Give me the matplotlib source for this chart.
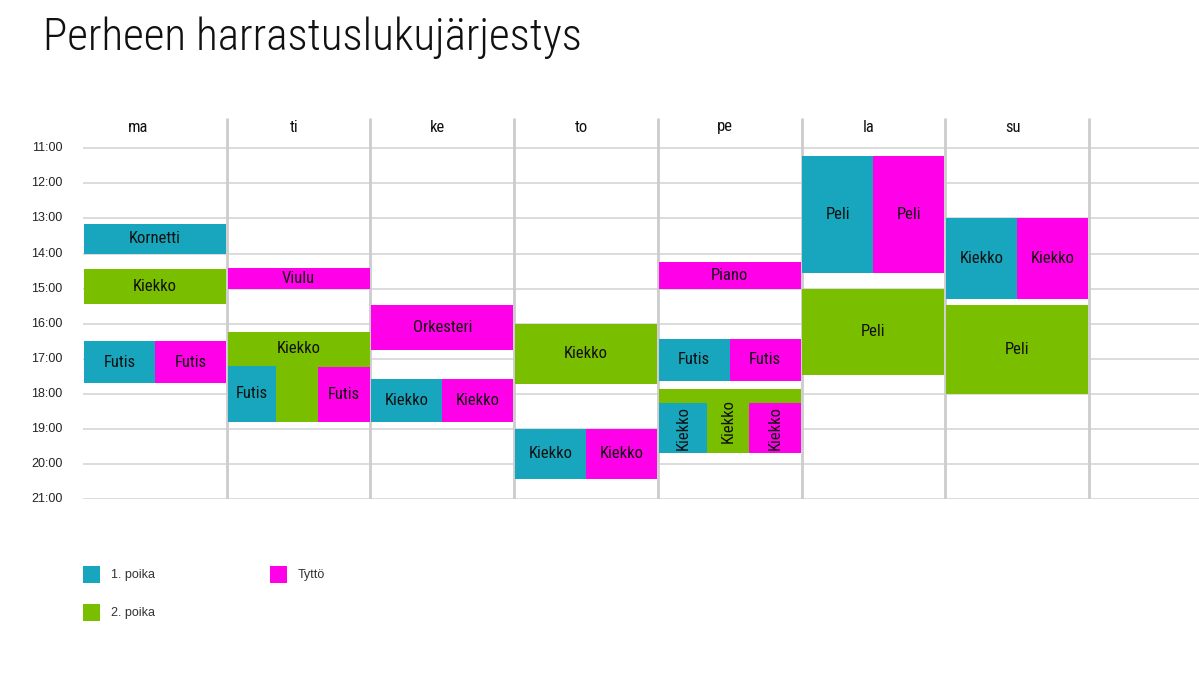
import matplotlib
matplotlib.use("Agg")
import matplotlib.pyplot as plt
from matplotlib import font_manager
from matplotlib.patches import Rectangle

# ---------------- data ----------------
days = ["ma", "ti", "ke", "to", "pe", "la", "su"]
hour_values = list(range(11, 22))
hour_labels = [f"{h}:00" for h in hour_values]

people = ["1. poika", "2. poika", "Tyttö"]

block_day = [0, 0, 0, 0,
             1, 1, 1, 1,
             2, 2, 2,
             3, 3, 3,
             4, 4, 4, 4, 4, 4,
             5, 5, 5,
             6, 6, 6]
block_person = ["1. poika", "2. poika", "1. poika", "Tyttö",
                "Tyttö", "2. poika", "1. poika", "Tyttö",
                "Tyttö", "1. poika", "Tyttö",
                "2. poika", "1. poika", "Tyttö",
                "Tyttö", "1. poika", "Tyttö", "2. poika", "1. poika", "Tyttö",
                "1. poika", "Tyttö", "2. poika",
                "1. poika", "Tyttö", "2. poika"]
block_label = ["Kornetti", "Kiekko", "Futis", "Futis",
               "Viulu", "Kiekko", "Futis", "Futis",
               "Orkesteri", "Kiekko", "Kiekko",
               "Kiekko", "Kiekko", "Kiekko",
               "Piano", "Futis", "Futis", "Kiekko", "Kiekko", "Kiekko",
               "Peli", "Peli", "Peli",
               "Kiekko", "Kiekko", "Peli"]
block_start = [13.17, 14.43, 16.50, 16.50,
               14.41, 16.23, 17.20, 17.25,
               15.47, 17.59, 17.59,
               16.00, 19.00, 19.00,
               14.25, 16.43, 16.43, 17.86, 18.25, 18.25,
               11.21, 11.21, 15.00,
               13.00, 13.00, 15.48]
block_end = [14.00, 15.45, 17.69, 17.69,
             15.00, 18.80, 18.80, 18.80,
             16.75, 18.80, 18.80,
             17.73, 20.42, 20.42,
             15.00, 17.63, 17.63, 19.68, 19.68, 19.68,
             14.56, 14.56, 17.46,
             15.30, 15.30, 18.00]
block_lane = ["full", "full", "left", "right",
              "full", "full", "left3", "right3",
              "full", "left", "right",
              "full", "left", "right",
              "full", "left", "right", "full", "left3", "right3",
              "left", "right", "full",
              "left", "right", "full"]

# ---------------- style ----------------
colors = {"1. poika": "#17A6BD", "2. poika": "#7ABE00", "Tyttö": "#FF00E8"}
lane_span = {"full": (0.0, 1.0), "left": (0.0, 0.5), "right": (0.5, 1.0),
             "left3": (0.0, 0.345), "right3": (0.635, 1.0)}


def pick_font(cands):
    names = {f.name for f in font_manager.fontManager.ttflist}
    for c in cands:
        if c in names:
            return c
    return "DejaVu Sans"


cond_font = pick_font(["Roboto Condensed", "Noto Sans Condensed", "Open Sans Condensed",
                       "Liberation Sans Narrow", "Ubuntu Condensed", "Roboto"])
arial_font = pick_font(["Liberation Sans", "Arial", "DejaVu Sans"])

W, H = 1199, 698
fig = plt.figure(figsize=(W / 100, H / 100), dpi=100)
fig.patch.set_facecolor("white")

left_px, right_px, top_px, bottom_px = 83, 1199, 118, 499
ax = fig.add_axes([left_px / W, 1 - bottom_px / H,
                   (right_px - left_px) / W, (bottom_px - top_px) / H])
col_px = 143.7
xmax = (right_px - left_px) / col_px
px_per_h = (499 - 148.3) / 10.0
ytop = 11 - (148.3 - top_px) / px_per_h
ax.set_xlim(0, xmax)
ax.set_ylim(21, ytop)
ax.axis("off")

# grid lines
for h in hour_values:
    ax.plot([0, xmax], [h, h], color="#dcdcdc", lw=1.4, zorder=1, solid_capstyle="butt")
for i in range(1, len(days) + 1):
    ax.plot([i, i], [ytop, 21], color="#cccccc", lw=2.0, zorder=1, solid_capstyle="butt")

# day labels (first header cell also spans the hour-label column)
first_left = -(left_px - 50) / col_px
for i, d in enumerate(days):
    lo = first_left if i == 0 else i
    cx = (lo + i + 1) / 2 - (0 if i == 0 else 0.03)
    ax.text(cx, ytop + (127 - top_px) / px_per_h, d, ha="center", va="center",
            fontsize=12, family=[cond_font, "DejaVu Sans"], color="#111111",
            clip_on=False)

# hour labels
for h, lab in zip(hour_values, hour_labels):
    fig.text(62.5 / W, 1 - (148.3 + (h - 11) * px_per_h) / H, lab, ha="right", va="center",
             fontsize=9, family=[arial_font], color="#222222")

# blocks
inset = 0.006
fig.canvas.draw()
renderer = fig.canvas.get_renderer()
for k in range(len(block_day)):
    d = block_day[k]
    a, b = lane_span[block_lane[k]]
    x0 = d + a + (inset if a == 0 else 0)
    x1 = d + b - (inset if b == 1 else 0)
    s, e = block_start[k], block_end[k]
    ax.bar(x0, e - s, bottom=s, width=x1 - x0, align="edge",
           color=colors[block_person[k]], zorder=2, linewidth=0)

    # label position: the part of the block not covered by narrower blocks
    tx = (x0 + x1) / 2
    ty = (s + e) / 2
    avail = (x1 - x0) * col_px
    if block_lane[k] == "full":
        others = [j for j in range(len(block_day)) if j != k and block_day[j] == d
                  and block_lane[j] != "full" and block_start[j] < e and block_end[j] > s]
        if others:
            first = min(block_start[j] for j in others)
            if first - s > 0.5:
                ty = (s + first) / 2
            else:
                lo = max(d + lane_span[block_lane[j]][1] for j in others
                         if lane_span[block_lane[j]][0] == 0)
                hi = min(d + lane_span[block_lane[j]][0] for j in others
                         if lane_span[block_lane[j]][1] == 1)
                tx = (lo + hi) / 2
                avail = (hi - lo) * col_px
    t = ax.text(tx, ty, block_label[k], ha="center", va="center", fontsize=12,
                family=[cond_font, "DejaVu Sans"], color="#111111", zorder=3)
    bb = t.get_window_extent(renderer=renderer)
    if bb.width > avail - 8:
        t.set_rotation(90)

# title
fig.text(43 / W, 1 - 38 / H, "Perheen harrastuslukujärjestys", ha="left", va="center",
         fontsize=32.5, family=[cond_font, "DejaVu Sans"], fontweight="light", color="#111111")

# legend
legend_pos = {"1. poika": (83, 566), "Tyttö": (270, 566), "2. poika": (83, 604)}
for p in people:
    lx, ly = legend_pos[p]
    fig.patches.append(Rectangle((lx / W, 1 - (ly + 17) / H), 17 / W, 17 / H,
                                 transform=fig.transFigure, facecolor=colors[p],
                                 edgecolor="none"))
    fig.text((lx + 28) / W, 1 - (ly + 9) / H, p, ha="left", va="center",
             fontsize=9, family=[arial_font], color="#333333")

fig.savefig("out.png", dpi=100, facecolor="white")
